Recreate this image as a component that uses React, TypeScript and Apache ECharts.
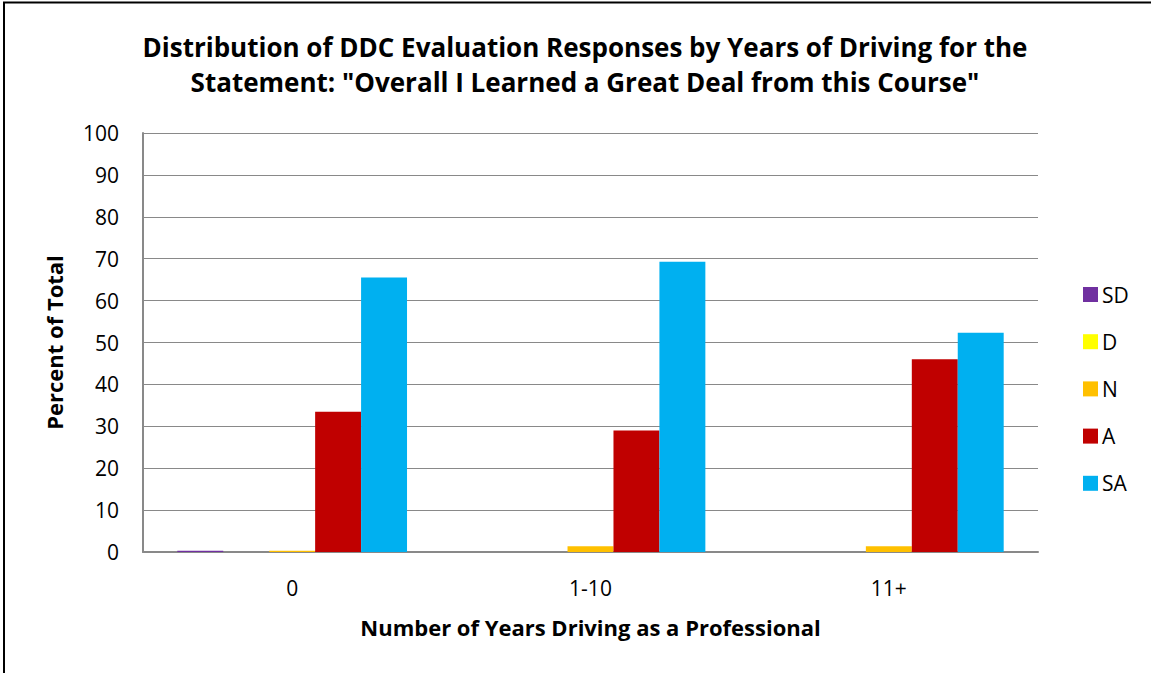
import React, { useEffect, useRef } from "react";
import * as echarts from "echarts";

const categories = ["0", "1-10", "11+"];
const seriesNames = ["SD", "D", "N", "A", "SA"];
const sdValues = [0.3, 0, 0];
const dValues = [0, 0, 0];
const nValues = [0.3, 1.4, 1.4];
const aValues = [33.5, 29.0, 46.0];
const saValues = [65.5, 69.3, 52.3];
const colors = ["#7030A0", "#FFFF00", "#FFC000", "#C00000", "#00B0F0"];

const FONT = "'Open Sans', 'Noto Sans', sans-serif";

export default function App() {
  const ref = useRef<HTMLDivElement>(null);
  useEffect(() => {
    if (!ref.current) return;
    const chart = echarts.init(ref.current, null, { renderer: "svg" });
    const values = [sdValues, dValues, nValues, aValues, saValues];
    chart.setOption({
      animation: false,
      backgroundColor: "#ffffff",
      title: {
        text: 'Distribution of DDC Evaluation Responses by Years of Driving for the\nStatement: "Overall I Learned a Great Deal from this Course"',
        left: 580,
        textAlign: "center",
        top: 24,
        textStyle: { fontFamily: FONT, fontWeight: "bold", fontSize: 26, color: "#000", lineHeight: 35 },
      },
      legend: {
        orient: "vertical",
        left: 1078,
        top: 279,
        itemWidth: 15,
        itemHeight: 15,
        itemGap: 26.2,
        icon: "rect",
        textStyle: { fontFamily: FONT, fontSize: 21, color: "#000", padding: [0, 0, 0, -1], lineHeight: 20 },
        data: seriesNames,
      },
      grid: { left: 143, right: 113, top: 133, bottom: 121 },
      xAxis: {
        type: "category",
        data: categories,
        name: "Number of Years Driving as a Professional",
        nameLocation: "middle",
        nameGap: 64,
        nameTextStyle: { fontFamily: FONT, fontWeight: "bold", fontSize: 22, color: "#000" },
        axisLine: { lineStyle: { color: "#898989", width: 2 } },
        axisTick: { show: false },
        axisLabel: { fontFamily: FONT, fontSize: 21, color: "#000", margin: 25 },
      },
      yAxis: {
        type: "value",
        min: 0,
        max: 100,
        interval: 10,
        name: "Percent of Total",
        nameLocation: "middle",
        nameGap: 78,
        nameTextStyle: { fontFamily: FONT, fontWeight: "bold", fontSize: 22, color: "#000" },
        axisLine: { show: true, lineStyle: { color: "#898989", width: 2 } },
        axisTick: { show: false },
        splitLine: { lineStyle: { color: "#898989", width: 1 } },
        axisLabel: { fontFamily: FONT, fontSize: 21, color: "#000", margin: 24 },
      },
      series: seriesNames.map((name, i) => ({
        name,
        type: "bar",
        data: values[i],
        itemStyle: { color: colors[i] },
        barGap: "0%",
        barCategoryGap: "23%",
      })),
      graphic: [
        {
          type: "rect",
          shape: { x: 4, y: 2.5, width: 1200, height: 700 },
          style: { fill: "none", stroke: "#000", lineWidth: 2 },
          z: 100,
        },
      ],
    });
    return () => chart.dispose();
  }, []);
  return (
    <div
      ref={ref}
      style={{ position: "fixed", left: 0, top: 0, width: 1151, height: 673 }}
    />
  );
}
